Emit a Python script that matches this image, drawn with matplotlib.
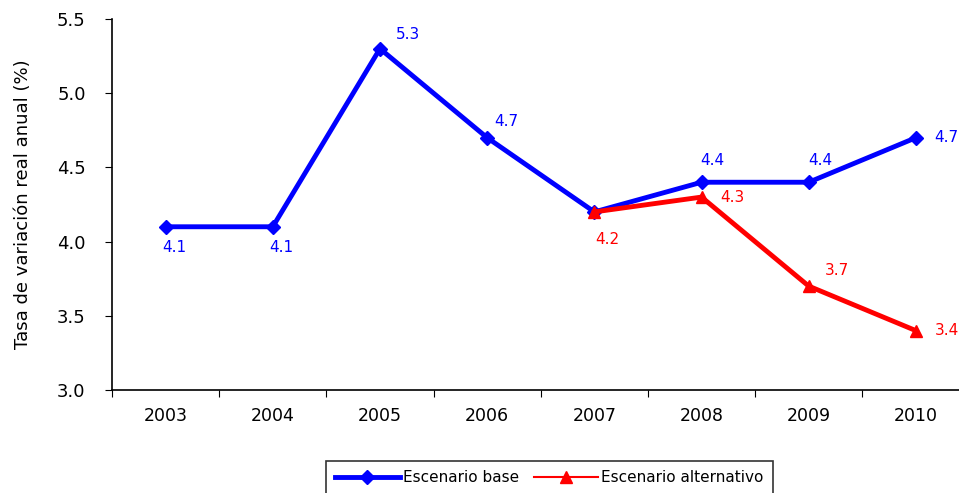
import matplotlib.pyplot as plt

# --- Datos ---
years = ['2003', '2004', '2005', '2006', '2007', '2008', '2009', '2010']
base = [4.1, 4.1, 5.3, 4.7, 4.2, 4.4, 4.4, 4.7]
alt_years = ['2007', '2008', '2009', '2010']
alt = [4.2, 4.3, 3.7, 3.4]

# desplazamientos de las etiquetas (puntos)
base_off = [(6, -15), (6, -15), (20, 10), (14, 12), (0, 0), (8, 16), (8, 16), (22, 0)]
alt_off = [(9, -20), (22, 0), (20, 11), (22, 0)]

fig = plt.figure(figsize=(9.59, 4.93), dpi=100)
ax = fig.add_axes([112 / 959, 1 - 390 / 493, 857.5 / 959, 371 / 493])

xb = [years.index(y) for y in years]
xa = [years.index(y) for y in alt_years]

ax.plot(xb, base, color='#0000FF', lw=3.5, marker='D', ms=7, label='Escenario base', zorder=3)
ax.plot(xa, alt, color='#FF0000', lw=3.5, marker='^', ms=9, label='Escenario alternativo', zorder=4)

for i, (x, v) in enumerate(zip(xb, base)):
    if years[i] == '2007':
        continue
    ax.annotate(f'{v:.1f}', (x, v), xytext=base_off[i], textcoords='offset points',
                ha='center', va='center', color='#0000FF', fontsize=11)
for i, (x, v) in enumerate(zip(xa, alt)):
    ax.annotate(f'{v:.1f}', (x, v), xytext=alt_off[i], textcoords='offset points',
                ha='center', va='center', color='#FF0000', fontsize=11)

ax.set_xlim(-0.5, len(years) - 0.5)
ax.set_ylim(3.0, 5.5)
ax.set_yticks([3.0, 3.5, 4.0, 4.5, 5.0, 5.5])
ax.set_yticklabels(['3.0', '3.5', '4.0', '4.5', '5.0', '5.5'], fontsize=13)
ax.set_xticks([i - 0.5 for i in range(len(years) + 1)])
ax.set_xticklabels([])
ax.set_xticks(range(len(years)), minor=True)
ax.set_xticklabels(years, minor=True, fontsize=12.5)
ax.tick_params(axis='x', which='minor', length=0, pad=12)
ax.tick_params(axis='x', which='major', length=5, direction='out', color='black')
ax.tick_params(axis='y', length=5, direction='out', pad=14)

for s in ['top', 'right']:
    ax.spines[s].set_visible(False)
ax.spines['left'].set_linewidth(1.2)
ax.spines['bottom'].set_linewidth(1.2)

ax.set_ylabel('Tasa de variación real anual (%)', fontsize=13, labelpad=18)

leg = fig.legend(loc='upper center', bbox_to_anchor=(549.5 / 959, 1 - 461 / 493), ncol=2,
                 fontsize=11, frameon=True, fancybox=False, edgecolor='black',
                 handlelength=4.2, columnspacing=1.0, handletextpad=0.2, borderpad=0.6,
                 borderaxespad=0)
leg.get_frame().set_linewidth(1.2)
leg.get_lines()[1].set_linewidth(1.5)

fig.savefig('out.png', dpi=100)
